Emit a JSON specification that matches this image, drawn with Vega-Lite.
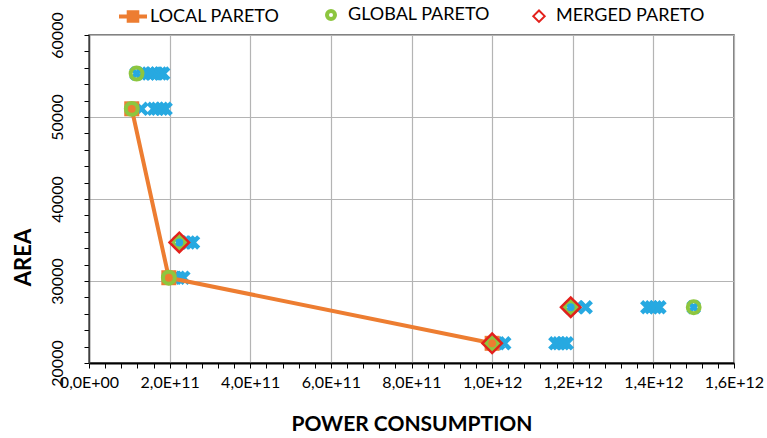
{
  "$schema": "https://vega.github.io/schema/vega-lite/v6.json",
  "width": 645,
  "height": 328,
  "autosize": "none",
  "padding": {"left": 89, "top": 35, "right": 33, "bottom": 75},
  "background": "white",
  "config": {
    "view": {"stroke": "#595959", "strokeWidth": 1.5},
    "font": "Lato"
  },
  "data": {
    "values": [
      {"p": 1.18e11, "a": 55300, "s": "SOLUTION"},
      {"p": 1.35e11, "a": 55300, "s": "SOLUTION"},
      {"p": 1.47e11, "a": 55300, "s": "SOLUTION"},
      {"p": 1.58e11, "a": 55300, "s": "SOLUTION"},
      {"p": 1.68e11, "a": 55300, "s": "SOLUTION"},
      {"p": 1.77e11, "a": 55300, "s": "SOLUTION"},
      {"p": 1.84e11, "a": 55300, "s": "SOLUTION"},
      {"p": 1.06e11, "a": 51000, "s": "SOLUTION"},
      {"p": 1.3e11, "a": 51000, "s": "SOLUTION"},
      {"p": 1.61e11, "a": 51000, "s": "SOLUTION"},
      {"p": 1.7e11, "a": 51000, "s": "SOLUTION"},
      {"p": 1.8e11, "a": 51000, "s": "SOLUTION"},
      {"p": 1.9e11, "a": 51000, "s": "SOLUTION"},
      {"p": 2.24e11, "a": 34700, "s": "SOLUTION"},
      {"p": 2.35e11, "a": 34700, "s": "SOLUTION"},
      {"p": 2.47e11, "a": 34700, "s": "SOLUTION"},
      {"p": 2.58e11, "a": 34700, "s": "SOLUTION"},
      {"p": 1.98e11, "a": 30400, "s": "SOLUTION"},
      {"p": 2.1e11, "a": 30400, "s": "SOLUTION"},
      {"p": 2.22e11, "a": 30400, "s": "SOLUTION"},
      {"p": 2.34e11, "a": 30400, "s": "SOLUTION"},
      {"p": 1.0e12, "a": 22400, "s": "SOLUTION"},
      {"p": 1.015e12, "a": 22400, "s": "SOLUTION"},
      {"p": 1.03e12, "a": 22400, "s": "SOLUTION"},
      {"p": 1.157e12, "a": 22400, "s": "SOLUTION"},
      {"p": 1.166e12, "a": 22400, "s": "SOLUTION"},
      {"p": 1.175e12, "a": 22400, "s": "SOLUTION"},
      {"p": 1.185e12, "a": 22400, "s": "SOLUTION"},
      {"p": 1.195e12, "a": 26800, "s": "SOLUTION"},
      {"p": 1.21e12, "a": 26800, "s": "SOLUTION"},
      {"p": 1.232e12, "a": 26800, "s": "SOLUTION"},
      {"p": 1.385e12, "a": 26800, "s": "SOLUTION"},
      {"p": 1.395e12, "a": 26800, "s": "SOLUTION"},
      {"p": 1.405e12, "a": 26800, "s": "SOLUTION"},
      {"p": 1.415e12, "a": 26800, "s": "SOLUTION"},
      {"p": 1.5e12, "a": 26800, "s": "SOLUTION"},
      {"p": 1.06e11, "a": 51000, "s": "LOCAL PARETO"},
      {"p": 1.98e11, "a": 30400, "s": "LOCAL PARETO"},
      {"p": 1.0e12, "a": 22400, "s": "LOCAL PARETO"},
      {"p": 1.18e11, "a": 55300, "s": "GLOBAL PARETO"},
      {"p": 1.06e11, "a": 51000, "s": "GLOBAL PARETO"},
      {"p": 1.98e11, "a": 30400, "s": "GLOBAL PARETO"},
      {"p": 2.24e11, "a": 34700, "s": "GLOBAL PARETO"},
      {"p": 1.0e12, "a": 22400, "s": "GLOBAL PARETO"},
      {"p": 1.195e12, "a": 26800, "s": "GLOBAL PARETO"},
      {"p": 1.5e12, "a": 26800, "s": "GLOBAL PARETO"},
      {"p": 2.24e11, "a": 34700, "s": "MERGED PARETO"},
      {"p": 1.0e12, "a": 22400, "s": "MERGED PARETO"},
      {"p": 1.195e12, "a": 26800, "s": "MERGED PARETO"}
    ]
  },
  "encoding": {
    "x": {
      "field": "p", "type": "quantitative",
      "scale": {"domain": [0, 1600000000000], "nice": false, "zero": false},
      "axis": {
        "values": [0, 40000000000, 80000000000, 120000000000, 160000000000, 200000000000, 240000000000, 280000000000, 320000000000, 360000000000, 400000000000, 440000000000, 480000000000, 520000000000, 560000000000, 600000000000, 640000000000, 680000000000, 720000000000, 760000000000, 800000000000, 840000000000, 880000000000, 920000000000, 960000000000, 1000000000000, 1040000000000, 1080000000000, 1120000000000, 1160000000000, 1200000000000, 1240000000000, 1280000000000, 1320000000000, 1360000000000, 1400000000000, 1440000000000, 1480000000000, 1520000000000, 1560000000000, 1600000000000],
        "labelExpr": "datum.value % 200000000000 != 0 ? '' : datum.value == 0 ? '0,0E+00' : datum.value < 1000000000000 ? replace(format(datum.value / 100000000000, '.1f'), '.', ',') + 'E+11' : replace(format(datum.value / 1000000000000, '.1f'), '.', ',') + 'E+12'",
        "labelFont": "Lato", "labelFontSize": 16, "labelColor": "#000000",
        "labelPadding": 6, "labelOverlap": false, "labelFlush": false, "labelBound": false,
        "ticks": true, "tickColor": "#000000", "tickSize": 5, "tickWidth": 1,
        "domainColor": "#000000", "domainWidth": 2,
        "grid": true, "gridColor": "#B4B4B4", "gridWidth": 1.2,
        "gridOpacity": {"condition": {"test": "datum.value % 200000000000 == 0", "value": 1}, "value": 0},
        "title": "POWER CONSUMPTION", "titleFont": "Lato", "titleFontSize": 21, "titleFontWeight": "bold", "titleColor": "#000000", "titlePadding": 23
      }
    },
    "y": {
      "field": "a", "type": "quantitative",
      "scale": {"domain": [20000, 60000], "nice": false, "zero": false},
      "axis": {
        "values": [20000, 22000, 24000, 26000, 28000, 30000, 32000, 34000, 36000, 38000, 40000, 42000, 44000, 46000, 48000, 50000, 52000, 54000, 56000, 58000, 60000],
        "labelExpr": "datum.value % 10000 == 0 ? '' + datum.value : ''",
        "labelFont": "Lato", "labelFontSize": 16, "labelColor": "#000000",
        "labelAngle": -90, "labelAlign": "center", "labelBaseline": "bottom",
        "labelPadding": 19, "labelOverlap": false, "labelFlush": false, "labelBound": false,
        "ticks": true, "tickColor": "#000000", "tickSize": 5, "tickWidth": 1,
        "domainColor": "#404040", "domainWidth": 1.5,
        "grid": true, "gridColor": "#B4B4B4", "gridWidth": 1.2,
        "gridOpacity": {"condition": {"test": "datum.value % 10000 == 0", "value": 1}, "value": 0},
        "title": "AREA", "titleFont": "Lato", "titleFontSize": 22, "titleFontWeight": "bold", "titleColor": "#000000",
        "titleAngle": -90, "titleX": -66, "titleY": 222, "titleAlign": "center", "titleBaseline": "middle"
      }
    }
  },
  "layer": [
    {
      "transform": [{"filter": "datum.s == 'SOLUTION'"}],
      "mark": {"type": "point", "shape": "M-1,-1L1,1M1,-1L-1,1", "filled": false, "stroke": "#27A9E1", "strokeWidth": 4.5, "size": 130, "opacity": 1}
    },
    {
      "transform": [{"filter": "datum.s == 'LOCAL PARETO'"}],
      "mark": {"type": "line", "color": "#ED7D31", "strokeWidth": 4}
    },
    {
      "transform": [{"filter": "datum.s == 'LOCAL PARETO'"}],
      "mark": {"type": "point", "shape": "square", "filled": true, "fill": "#ED7D31", "stroke": "#ED7D31", "strokeWidth": 0, "size": 225, "opacity": 1}
    },
    {
      "transform": [{"filter": "datum.s == 'GLOBAL PARETO'"}],
      "mark": {"type": "point", "filled": false, "stroke": "#8DC63F", "strokeWidth": 4, "size": 140, "opacity": 1},
      "encoding": {
        "shape": {
          "field": "s", "type": "nominal",
          "scale": {"domain": ["LOCAL PARETO", "GLOBAL PARETO", "MERGED PARETO"], "range": ["M-2,-0.28H2V0.28H-2Z M-0.9,-0.9H0.9V0.9H-0.9Z", "circle", "diamond"]},
          "legend": {
            "orient": "none", "legendX": 35, "legendY": -29, "direction": "horizontal", "title": null,
            "labelFont": "Lato", "labelFontSize": 18, "labelColor": "#000000",
            "symbolSize": 196, "labelOffset": 8, "columnPadding": 39, "padding": 0,
            "encoding": {
              "symbols": {
                "fill": {"value": {"expr": "datum.value == 'LOCAL PARETO' ? '#ED7D31' : '#FFFFFF'"}},
                "stroke": {"value": {"expr": "datum.value == 'LOCAL PARETO' ? '#ED7D31' : datum.value == 'GLOBAL PARETO' ? '#8DC63F' : '#E3211C'"}},
                "strokeWidth": {"value": {"expr": "datum.value == 'LOCAL PARETO' ? 0 : datum.value == 'GLOBAL PARETO' ? 4 : 2"}},
                "size": {"value": {"expr": "datum.value == 'LOCAL PARETO' ? 196 : datum.value == 'GLOBAL PARETO' ? 64 : 130"}},
                "opacity": {"value": 1}
              }
            }
          }
        }
      }
    },
    {
      "transform": [{"filter": "datum.s == 'MERGED PARETO'"}],
      "mark": {"type": "point", "filled": false, "stroke": "#E3211C", "strokeWidth": 2.5, "size": 380, "opacity": 1},
      "encoding": {
        "shape": {"field": "s", "type": "nominal"}
      }
    }
  ]
}
